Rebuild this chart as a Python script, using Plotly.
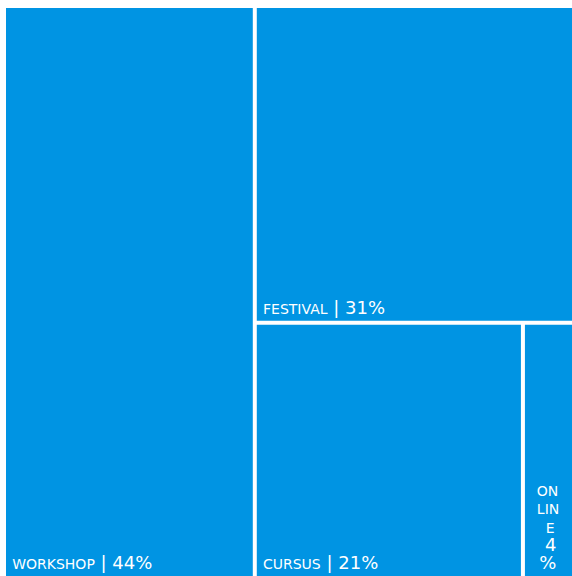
import plotly.graph_objects as go

labels = ["WORKSHOP", "FESTIVAL", "CURSUS", "ONLINE"]
values = [44, 31, 21, 4]
# tiling hierarchy: WORKSHOP | (FESTIVAL over (CURSUS | ONLINE))
groups = ["ROOT", "RIGHT", "BOTTOM"]
group_parents = ["", "ROOT", "RIGHT"]
leaf_parents = ["ROOT", "RIGHT", "BOTTOM", "BOTTOM"]

NB = "\u00a0"

def label_text(name, v):
    return (f"<span style='font-size:10px'>{NB}</span>"
            f"<span style='font-size:14px'>{name}</span>"
            f"<span style='font-size:18px'> | {v}%</span>")

def narrow_text(name, v):
    return (f"<span style='font-size:14px'>{NB}{NB}{name[:2]}<br>{NB}{NB}{name[2:5]}<br>{NB}{NB}{NB}{NB}{name[5:]}</span>"
            f"<span style='font-size:18px'><br>{NB}{NB}{NB}{v}<br>{NB}{NB}%</span>")

leaf_texts = [label_text(n, v) for n, v in zip(labels[:3], values[:3])] + [narrow_text(labels[3], values[3])]

# order nodes so children appear in drawing order: ROOT, WORKSHOP, RIGHT, FESTIVAL, BOTTOM, CURSUS, ONLINE
ids, parents, vals, texts, colors = [], [], [], [], []
def add_group(i):
    ids.append(groups[i]); parents.append(group_parents[i]); vals.append(0)
    texts.append(""); colors.append("white")
def add_leaf(i):
    ids.append(labels[i]); parents.append(leaf_parents[i]); vals.append(values[i])
    texts.append(leaf_texts[i]); colors.append("#0094E3")

add_group(0); add_leaf(0); add_group(1); add_leaf(1); add_group(2); add_leaf(2); add_leaf(3)

fig = go.Figure(go.Treemap(
    ids=ids,
    labels=ids,
    parents=parents,
    values=vals,
    branchvalues="remainder",
    text=texts,
    texttemplate="%{text}",
    textposition="bottom left",
    tiling=dict(packing="slice-dice", pad=4),
    marker=dict(colors=colors,
                line=dict(color="white", width=0),
                pad=dict(t=0, l=0, r=0, b=0)),
    textfont=dict(color="white", family="DejaVu Sans", size=14),
    pathbar=dict(visible=False),
    sort=False,
    hoverinfo="skip",
))
fig.update_layout(
    width=572, height=576,
    margin=dict(l=6, r=0, t=8, b=0),
    paper_bgcolor="white",
)
fig.write_html(
    "out.html",
    config={"displayModeBar": False},
    post_script="document.body.style.margin='0';Plotly.relayout('{plot_id}', {width: 572, height: 576});",
)
